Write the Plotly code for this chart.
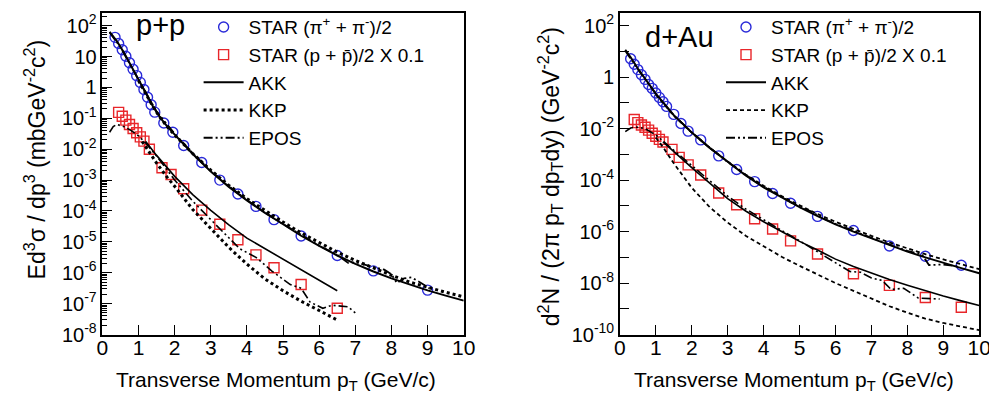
import plotly.graph_objects as go

# ---------------- p+p panel data ----------------
pp_pi_x = [0.35, 0.45, 0.55, 0.65, 0.75, 0.85, 0.95, 1.05, 1.15, 1.25, 1.35, 1.45, 1.7, 1.95,
           2.25, 2.75, 3.25, 3.75, 4.25, 4.75, 5.5, 6.5, 7.5, 9.0]
pp_pi_y = [41.7, 26.3, 16.6, 10.2, 6.31, 3.89, 2.40, 1.45, 0.851, 0.479, 0.275, 0.158, 0.0708, 0.0355,
           0.0132, 3.72e-3, 1.0e-3, 3.55e-4, 1.41e-4, 5.25e-5, 1.55e-5, 3.63e-6, 1.15e-6, 2.75e-7]

pp_p_x = [0.45, 0.55, 0.65, 0.75, 0.85, 0.95, 1.05, 1.15, 1.3, 1.65, 1.9, 2.25, 2.75, 3.25,
          3.75, 4.25, 4.75, 5.5, 6.5]
pp_p_y = [0.155, 0.117, 0.0871, 0.0631, 0.0468, 0.0339, 0.0251, 0.0182, 0.0100, 2.51e-3, 1.51e-3,
          5.25e-4, 1.07e-4, 3.72e-5, 1.17e-5, 3.8e-6, 1.45e-6, 4.17e-7, 7.08e-8]

pp_akk_pi_x = [0.2, 0.3, 0.4, 0.6, 0.8, 1.0, 1.2, 1.4, 1.6, 1.8, 2.0, 2.5, 3.0, 3.5, 4.0, 4.5,
               5.0, 5.5, 6.0, 6.5, 7.0, 7.5, 8.0, 8.5, 9.0, 9.5, 10.0]
pp_akk_pi_y = [63.1, 45.7, 31.6, 13.2, 5.01, 1.86, 0.661, 0.240, 0.105, 0.0537, 0.0302, 6.92e-3,
               1.91e-3, 6.03e-4, 2.19e-4, 8.71e-5, 3.72e-5, 1.58e-5, 7.41e-6, 3.63e-6, 1.95e-6,
               1.10e-6, 6.61e-7, 4.17e-7, 2.69e-7, 1.82e-7, 1.26e-7]

pp_kkp_pi_x = [1.0, 1.2, 1.4, 1.6, 1.8, 2.0, 2.5, 3.0, 3.5, 4.0, 4.5, 5.0, 5.5, 6.0, 6.5, 7.0,
               7.5, 8.0, 8.5, 9.0, 9.5, 10.0]
pp_kkp_pi_y = [1.66, 0.603, 0.240, 0.105, 0.0525, 0.0288, 7.24e-3, 2.09e-3, 6.76e-4, 2.51e-4,
               1.02e-4, 4.37e-5, 1.95e-5, 9.33e-6, 4.68e-6, 2.51e-6, 1.41e-6, 8.32e-7, 5.01e-7,
               3.39e-7, 2.34e-7, 1.66e-7]

pp_epos_pi_x = [0.2, 0.5, 1.0, 1.5, 2.0, 2.5, 3.0, 3.5, 4.0, 4.5, 5.0, 5.5, 6.0, 6.5, 6.8, 7.0,
                7.3, 7.6, 7.8, 8.0, 8.15, 8.35, 8.55, 8.75, 9.05]
pp_epos_pi_y = [60.3, 20.0, 1.78, 0.166, 0.0316, 7.41e-3, 2.0e-3, 6.31e-4, 2.29e-4, 8.91e-5,
                3.8e-5, 1.66e-5, 7.59e-6, 3.8e-6, 2.09e-6, 2.19e-6, 1.78e-6, 1.48e-6, 1.26e-6,
                8.91e-7, 4.68e-7, 6.61e-7, 7.08e-7, 5.25e-7, 3.16e-7]

pp_akk_p_x = [1.2, 1.5, 2.0, 2.5, 3.0, 3.5, 4.0, 4.5, 5.0, 5.5, 6.0, 6.5]
pp_akk_p_y = [0.0178, 6.31e-3, 1.32e-3, 3.39e-4, 1.05e-4, 3.55e-5, 1.32e-5, 6.03e-6, 2.82e-6,
              1.26e-6, 5.62e-7, 2.63e-7]

pp_kkp_p_x = [1.1, 1.5, 1.8, 2.0, 2.5, 3.0, 3.5, 4.0, 4.5, 5.0, 5.5, 6.0, 6.5]
pp_kkp_p_y = [0.0178, 3.55e-3, 1.20e-3, 6.31e-4, 1.12e-4, 2.82e-5, 6.61e-6, 1.91e-6, 6.31e-7,
              2.63e-7, 1.20e-7, 6.03e-8, 2.95e-8]

pp_epos_p_x = [0.2, 0.3, 0.4, 0.6, 0.8, 1.0, 1.2, 1.5, 2.0, 2.5, 3.0, 3.5, 3.8, 4.25, 4.7, 5.2,
               5.5, 5.75, 6.1, 6.35, 6.8, 7.0]
pp_epos_p_y = [0.0355, 0.0537, 0.0631, 0.0537, 0.0398, 0.0269, 0.0158, 6.03e-3, 1.0e-3, 2.09e-4,
               5.25e-5, 1.41e-5, 6.03e-6, 3.16e-6, 1.12e-6, 4.17e-7, 3.16e-7, 1.12e-7, 7.08e-8,
               8.91e-8, 7.94e-8, 5.01e-8]

# ---------------- d+Au panel data ----------------
da_pi_x = [0.3, 0.4, 0.5, 0.6, 0.7, 0.8, 0.9, 1.0, 1.1, 1.2, 1.3, 1.5, 1.7, 1.9, 2.25, 2.75,
           3.25, 3.75, 4.25, 4.75, 5.5, 6.5, 7.5, 8.5, 9.5]
da_pi_y = [5.13, 3.16, 1.95, 1.23, 0.813, 0.513, 0.363, 0.240, 0.162, 0.110, 0.0724, 0.0355,
           0.0158, 7.94e-3, 3.63e-3, 8.71e-4, 2.57e-4, 8.71e-5, 3.02e-5, 1.26e-5, 3.89e-6,
           1.10e-6, 2.75e-7, 1.10e-7, 4.9e-8]

da_p_x = [0.4, 0.5, 0.6, 0.7, 0.8, 0.9, 1.0, 1.1, 1.2, 1.45, 1.65, 1.9, 2.25, 2.75, 3.25, 3.75,
          4.25, 4.75, 5.5, 6.5, 7.5, 8.5, 9.5]
da_p_y = [0.0224, 0.0170, 0.0138, 0.0112, 8.71e-3, 6.61e-3, 5.01e-3, 3.8e-3, 3.02e-3, 1.55e-3,
          7.59e-4, 3.89e-4, 1.58e-4, 3.16e-5, 1.10e-5, 3.16e-6, 1.26e-6, 4.37e-7, 1.35e-7,
          2.29e-8, 8.13e-9, 2.75e-9, 1.15e-9]

da_akk_pi_x = [0.15, 0.3, 0.5, 0.75, 1.0, 1.5, 2.0, 2.5, 3.0, 3.5, 4.0, 4.5, 5.0, 5.5, 6.0, 6.5,
               7.0, 7.5, 8.0, 8.5, 9.0, 9.5, 10.0]
da_akk_pi_y = [11.5, 5.89, 2.14, 0.708, 0.229, 0.0331, 7.08e-3, 1.78e-3, 5.01e-4, 1.51e-4,
               5.25e-5, 2.09e-5, 8.91e-6, 3.98e-6, 1.91e-6, 1.0e-6, 5.37e-7, 2.95e-7, 1.66e-7,
               1.0e-7, 6.03e-8, 3.8e-8, 2.4e-8]

da_kkp_pi_x = [1.0, 1.5, 2.0, 2.5, 3.0, 3.5, 4.0, 4.5, 5.0, 5.5, 6.0, 6.5, 7.0, 7.5, 8.0, 8.5,
               9.0, 9.5, 10.0]
da_kkp_pi_y = [0.209, 0.0316, 6.92e-3, 1.78e-3, 5.25e-4, 1.66e-4, 6.03e-5, 2.4e-5, 1.05e-5,
               4.79e-6, 2.4e-6, 1.26e-6, 6.76e-7, 3.8e-7, 2.19e-7, 1.32e-7, 8.32e-8, 5.37e-8,
               3.47e-8]

da_epos_pi_x = [0.15, 0.5, 1.0, 1.5, 2.0, 2.5, 3.0, 3.5, 4.0, 4.5, 5.0, 5.3, 5.6, 6.0, 6.5, 7.0,
                7.5, 8.0, 8.4, 8.6, 9.0, 9.4]
da_epos_pi_y = [10.5, 2.0, 0.219, 0.0324, 7.24e-3, 1.82e-3, 5.01e-4, 1.58e-4, 5.5e-5, 2.19e-5,
                8.91e-6, 6.31e-6, 3.55e-6, 2.0e-6, 1.05e-6, 5.75e-7, 3.16e-7, 1.78e-7, 1.32e-7,
                5.01e-8, 5.25e-8, 4.47e-8]

da_akk_p_x = [1.2, 1.5, 2.0, 2.5, 3.0, 3.5, 4.0, 4.5, 5.0, 5.5, 6.0, 6.5, 7.0, 7.5, 8.0, 8.5,
              9.0, 9.5, 10.0]
da_akk_p_y = [3.02e-3, 1.26e-3, 3.02e-4, 7.59e-5, 1.91e-5, 6.31e-6, 2.4e-6, 1.0e-6, 4.17e-7,
              1.91e-7, 8.51e-8, 4.37e-8, 2.4e-8, 1.38e-8, 8.32e-9, 5.01e-9, 3.16e-9, 2.04e-9,
              1.35e-9]

da_kkp_p_x = [1.0, 1.2, 1.5, 2.0, 2.5, 3.0, 3.5, 4.0, 4.5, 5.0, 5.5, 6.0, 6.5, 7.0, 7.5, 8.0,
              8.5, 9.0, 9.5, 10.0]
da_kkp_p_y = [4.47e-3, 1.91e-3, 4.47e-4, 5.01e-5, 8.91e-6, 2.24e-6, 6.92e-7, 2.63e-7, 1.05e-7,
              4.68e-8, 2.09e-8, 1.0e-8, 5.01e-9, 2.51e-9, 1.26e-9, 7.08e-10, 4.17e-10, 2.82e-10,
              2.0e-10, 1.48e-10]

da_epos_p_x = [0.15, 0.3, 0.45, 0.7, 1.0, 1.5, 2.0, 2.5, 3.0, 3.5, 4.0, 4.5, 5.0, 5.5, 6.0, 6.4,
               6.7, 7.0, 7.3, 7.55, 7.9, 8.3, 8.9]
da_epos_p_y = [7.59e-3, 0.0105, 0.0115, 0.01, 5.62e-3, 1.41e-3, 3.55e-4, 8.91e-5, 2.4e-5,
               7.59e-6, 2.82e-6, 1.10e-6, 4.37e-7, 1.66e-7, 6.31e-8, 2.82e-8, 2.63e-8, 1.58e-8,
               1.26e-8, 5.62e-9, 6.31e-9, 2.63e-9, 2.4e-9]

# ---------------- labels ----------------
pi_label = "STAR (π<sup>+</sup> + π<sup>-</sup>)/2"
p_label = "STAR (p + p\u0304)/2 X 0.1"
x_ticks = list(range(0, 11))
pp_y_tickvals = [1e-8, 1e-7, 1e-6, 1e-5, 1e-4, 1e-3, 1e-2, 1e-1, 1, 10, 100]
pp_y_ticktext = ["10<sup>-8</sup>", "10<sup>-7</sup>", "10<sup>-6</sup>", "10<sup>-5</sup>",
                 "10<sup>-4</sup>", "10<sup>-3</sup>", "10<sup>-2</sup>", "10<sup>-1</sup>",
                 "1", "10", "10<sup>2</sup>"]
da_y_tickvals = [1e-10, 1e-8, 1e-6, 1e-4, 1e-2, 1, 100]
da_y_ticktext = ["10<sup>-10</sup>", "10<sup>-8</sup>", "10<sup>-6</sup>", "10<sup>-4</sup>",
                 "10<sup>-2</sup>", "1", "10<sup>2</sup>"]
da_y_minor = [1e-9, 1e-7, 1e-5, 1e-3, 1e-1, 10]

BLUE = "#2a2ad8"
RED = "#e8262a"
FONT = "Liberation Sans"
EPOS_DASH = "9px,3px,2px,3px,2px,3px"

fig = go.Figure()


def add_panel(xa, ya, leg, pi_x, pi_y, p_x, p_y, akk_pi, kkp_pi, epos_pi, akk_p, kkp_p, epos_p, kkp_dash, kkp_w):
    fig.add_trace(go.Scatter(x=pi_x, y=pi_y, mode="markers", name=pi_label, xaxis=xa, yaxis=ya, legend=leg,
                             marker=dict(symbol="circle-open", size=10, color=BLUE, line=dict(width=1.4, color=BLUE))))
    fig.add_trace(go.Scatter(x=p_x, y=p_y, mode="markers", name=p_label, xaxis=xa, yaxis=ya, legend=leg,
                             marker=dict(symbol="square-open", size=10, color=RED, line=dict(width=1.4, color=RED))))
    fig.add_trace(go.Scatter(x=akk_pi[0], y=akk_pi[1], mode="lines", name="AKK", xaxis=xa, yaxis=ya, legend=leg,
                             line=dict(color="black", width=2)))
    fig.add_trace(go.Scatter(x=kkp_pi[0], y=kkp_pi[1], mode="lines", name="KKP", xaxis=xa, yaxis=ya, legend=leg,
                             line=dict(color="black", width=kkp_w, dash=kkp_dash)))
    fig.add_trace(go.Scatter(x=epos_pi[0], y=epos_pi[1], mode="lines", name="EPOS", xaxis=xa, yaxis=ya, legend=leg,
                             line=dict(color="black", width=1.8, dash=EPOS_DASH)))
    fig.add_trace(go.Scatter(x=akk_p[0], y=akk_p[1], mode="lines", showlegend=False, xaxis=xa, yaxis=ya,
                             line=dict(color="black", width=1.6)))
    fig.add_trace(go.Scatter(x=kkp_p[0], y=kkp_p[1], mode="lines", showlegend=False, xaxis=xa, yaxis=ya,
                             line=dict(color="black", width=kkp_w, dash=kkp_dash)))
    fig.add_trace(go.Scatter(x=epos_p[0], y=epos_p[1], mode="lines", showlegend=False, xaxis=xa, yaxis=ya,
                             line=dict(color="black", width=1.6, dash=EPOS_DASH)))


add_panel("x", "y", "legend", pp_pi_x, pp_pi_y, pp_p_x, pp_p_y,
          (pp_akk_pi_x, pp_akk_pi_y), (pp_kkp_pi_x, pp_kkp_pi_y), (pp_epos_pi_x, pp_epos_pi_y),
          (pp_akk_p_x, pp_akk_p_y), (pp_kkp_p_x, pp_kkp_p_y), (pp_epos_p_x, pp_epos_p_y), "dot", 3)
add_panel("x2", "y2", "legend2", da_pi_x, da_pi_y, da_p_x, da_p_y,
          (da_akk_pi_x, da_akk_pi_y), (da_kkp_pi_x, da_kkp_pi_y), (da_epos_pi_x, da_epos_pi_y),
          (da_akk_p_x, da_akk_p_y), (da_kkp_p_x, da_kkp_p_y), (da_epos_p_x, da_epos_p_y), "4px,3px", 1.8)

W, H = 997, 411
xtickfont = dict(family=FONT, size=21, color="black")
ytickfont = dict(family=FONT, size=20, color="black")
axis_common = dict(showline=True, linecolor="black", linewidth=1.5, mirror=True, ticks="inside",
                   tickcolor="black", tickwidth=1.3, showgrid=False, zeroline=False)

pp_minor = [k * 10.0 ** d for d in range(-8, 3) for k in range(2, 10) if k * 10.0 ** d < 250]

fig.update_layout(
    width=W, height=H, margin=dict(l=0, r=0, t=0, b=0),
    paper_bgcolor="white", plot_bgcolor="white",
    font=dict(family=FONT, color="black"),
    xaxis=dict(domain=[90 / W, 458 / W], range=[0, 10], tickvals=x_ticks, ticklen=10, anchor="y",
               tickfont=xtickfont, ticklabelstandoff=-7, **axis_common),
    yaxis=dict(domain=[(H - 335) / H, (H - 2) / H], type="log", range=[-8, 2.41], anchor="x",
               tickvals=pp_y_tickvals, ticktext=pp_y_ticktext, ticklen=10, tickfont=ytickfont,
               minor=dict(tickvals=pp_minor, ticks="inside", ticklen=5, tickcolor="black", tickwidth=1),
               **axis_common),
    xaxis2=dict(domain=[617 / W, 983 / W], range=[0, 10], tickvals=x_ticks, ticklen=10, anchor="y2",
                tickfont=xtickfont, ticklabelstandoff=-7, **axis_common),
    yaxis2=dict(domain=[(H - 335) / H, (H - 2) / H], type="log", range=[-10, 2.49], anchor="x2",
                tickvals=da_y_tickvals, ticktext=da_y_ticktext, ticklen=9, tickfont=ytickfont,
                minor=dict(tickvals=da_y_minor, ticks="inside", ticklen=9, tickcolor="black", tickwidth=1.3),
                **axis_common),
    legend=dict(x=188 / W, y=1 + 3 / H, xanchor="left", yanchor="top", bgcolor="rgba(0,0,0,0)",
                font=dict(family=FONT, size=19, color="black"), itemwidth=40, tracegroupgap=0),
    legend2=dict(x=720 / W, y=1 + 3 / H, xanchor="left", yanchor="top", bgcolor="rgba(0,0,0,0)",
                 font=dict(family=FONT, size=19, color="black"), itemwidth=40, tracegroupgap=0),
    showlegend=True,
)

title_font = dict(family=FONT, size=21, color="black")
ytitle_font = dict(family=FONT, size=23, color="black")
xtitle = "Transverse Momentum p<sub>T</sub> (GeV/c)"
fig.add_annotation(text=xtitle, x=267 / W, y=1 - 383 / H, xref="paper", yref="paper",
                   showarrow=False, xanchor="center", yanchor="middle", font=title_font)
fig.add_annotation(text=xtitle, x=794 / W, y=1 - 383 / H, xref="paper", yref="paper",
                   showarrow=False, xanchor="center", yanchor="middle", font=title_font)
fig.add_annotation(text="Ed<sup>3</sup>σ / dp<sup>3</sup> (mbGeV<sup>-2</sup>c<sup>2</sup>)",
                   x=21 / W, y=1 - 154 / H, xref="paper", yref="paper", textangle=-90,
                   showarrow=False, xanchor="center", yanchor="middle", font=ytitle_font)
fig.add_annotation(text="d<sup>2</sup>N / (2π p<sub>T</sub> dp<sub>T</sub>dy) (GeV<sup>-2</sup>c<sup>2</sup>)",
                   x=546 / W, y=1 - 172 / H, xref="paper", yref="paper", textangle=-90,
                   showarrow=False, xanchor="center", yanchor="middle", font=ytitle_font)
fig.add_annotation(text="p+p", x=149 / W, y=1 - 15 / H, xref="paper", yref="paper",
                   showarrow=False, xanchor="center", yanchor="middle",
                   font=dict(family=FONT, size=29, color="black"))
fig.add_annotation(text="d+Au", x=678 / W, y=1 - 27 / H, xref="paper", yref="paper",
                   showarrow=False, xanchor="center", yanchor="middle",
                   font=dict(family=FONT, size=29, color="black"))

fig.write_html("out.html")
